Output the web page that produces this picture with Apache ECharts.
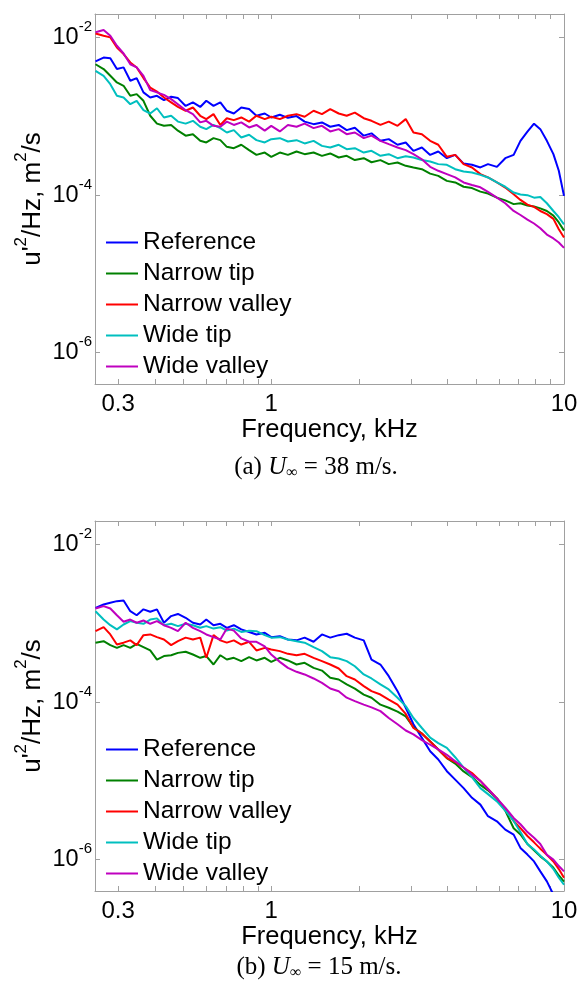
<!DOCTYPE html>
<html><head><meta charset="utf-8">
<script src="https://cdn.jsdelivr.net/npm/echarts@6/dist/echarts.min.js"></script>
<style>html,body{margin:0;padding:0;background:#fff}#c{width:581px;height:983px}</style>
</head><body><div id="c"></div>
<script>
// ---------- data ----------
const freq = [0.251,0.2675,0.282,0.297,0.313,0.33,0.347,0.366,0.386,0.407,0.43,0.455,0.48,0.51,0.54,0.572,0.60,0.635,0.67,0.705,0.745,0.79,0.84,0.89,0.95,1.0,1.07,1.14,1.22,1.30,1.395,1.49,1.59,1.70,1.81,1.93,2.07,2.2,2.36,2.52,2.7,2.88,3.06,3.27,3.49,3.72,3.98,4.25,4.54,4.85,5.18,5.5,5.9,6.3,6.73,7.1,7.5,7.9,8.3,8.74,9.2,9.6,10.0];

const seriesNames = ['Reference','Narrow tip','Narrow valley','Wide tip','Wide valley'];

// (a) U = 38 m/s
const refA = [5.0e-3,5.6e-3,5.5e-3,4.0e-3,4.2e-3,2.84e-3,3.07e-3,2.02e-3,1.74e-3,1.83e-3,1.61e-3,1.78e-3,1.71e-3,1.36e-3,1.51e-3,1.32e-3,1.58e-3,1.36e-3,1.51e-3,1.18e-3,1.09e-3,1.30e-3,1.24e-3,1.02e-3,1.09e-3,9.7e-4,1.05e-3,9.6e-4,1.01e-3,8.6e-4,7.98e-4,8.4e-4,7.4e-4,7.8e-4,6.7e-4,7.2e-4,5.7e-4,6.1e-4,4.9e-4,5.15e-4,4.37e-4,4.67e-4,3.66e-4,4.03e-4,3.25e-4,3.59e-4,2.95e-4,3.25e-4,2.52e-4,2.43e-4,2.25e-4,2.48e-4,2.29e-4,2.95e-4,3.25e-4,4.9e-4,6.4e-4,8.1e-4,6.9e-4,4.9e-4,3.32e-4,2.04e-4,9.8e-5];
const narrowTipA = [4.6e-3,4.0e-3,3.28e-3,2.7e-3,2.45e-3,1.83e-3,1.92e-3,1.58e-3,1.02e-3,8.1e-4,7.6e-4,7.8e-4,6.6e-4,5.7e-4,5.95e-4,4.9e-4,4.67e-4,5.3e-4,5.0e-4,4.11e-4,3.95e-4,4.37e-4,3.73e-4,3.25e-4,3.48e-4,3.07e-4,3.48e-4,3.25e-4,3.59e-4,3.32e-4,3.48e-4,3.16e-4,3.39e-4,3.01e-4,3.16e-4,2.79e-4,2.95e-4,2.62e-4,2.79e-4,2.48e-4,2.6e-4,2.36e-4,2.25e-4,2.14e-4,1.88e-4,1.76e-4,1.52e-4,1.45e-4,1.28e-4,1.23e-4,1.11e-4,1.05e-4,9.3e-5,8.6e-5,7.7e-5,7.9e-5,7.4e-5,7.2e-5,6.8e-5,6.3e-5,5.5e-5,4.5e-5,3.55e-5];
const narrowValleyA = [1.13e-2,1.06e-2,1.01e-2,7.5e-3,6.2e-3,4.85e-3,4.19e-3,3.07e-3,2.33e-3,2.07e-3,1.74e-3,1.51e-3,1.32e-3,1.18e-3,1.30e-3,1.02e-3,9.25e-4,1.07e-3,7.8e-4,9.5e-4,8.97e-4,9.7e-4,8.6e-4,1.02e-3,9.25e-4,9.9e-4,9.25e-4,1.02e-3,1.07e-3,9.9e-4,1.18e-3,1.07e-3,1.24e-3,1.09e-3,1.02e-3,1.12e-3,9.5e-4,8.8e-4,7.8e-4,8.6e-4,7.6e-4,9.25e-4,6.25e-4,5.95e-4,4.9e-4,4.37e-4,3.07e-4,3.25e-4,2.48e-4,2.25e-4,1.85e-4,1.68e-4,1.45e-4,1.25e-4,1.03e-4,8.7e-5,7.6e-5,7.1e-5,6.3e-5,5.75e-5,5.0e-5,3.7e-5,2.9e-5];
const wideTipA = [3.8e-3,3.28e-3,2.57e-3,1.83e-3,1.74e-3,1.43e-3,1.58e-3,1.2e-3,1.09e-3,1.27e-3,9.7e-4,1.02e-3,8.6e-4,8.1e-4,8.8e-4,7.4e-4,6.9e-4,7.8e-4,7.1e-4,6.25e-4,6.7e-4,5.4e-4,5.85e-4,5.0e-4,4.67e-4,5.15e-4,5.3e-4,4.8e-4,5.0e-4,4.54e-4,4.9e-4,4.23e-4,4.03e-4,4.37e-4,3.84e-4,3.95e-4,3.48e-4,3.66e-4,3.16e-4,3.32e-4,2.95e-4,3.13e-4,3.01e-4,2.79e-4,2.68e-4,2.48e-4,2.43e-4,2.14e-4,2.0e-4,1.94e-4,1.81e-4,1.68e-4,1.45e-4,1.28e-4,1.08e-4,1.02e-4,1.0e-4,9.3e-5,9.5e-5,7.9e-5,6.3e-5,5.25e-5,4.27e-5];
const wideValleyA = [1.17e-2,1.25e-2,1.06e-2,7.9e-3,6.3e-3,4.6e-3,4.19e-3,3.28e-3,2.16e-3,2.02e-3,1.88e-3,1.66e-3,1.43e-3,1.2e-3,1.07e-3,8.4e-4,8.8e-4,7.6e-4,7.4e-4,8.6e-4,7.8e-4,8.4e-4,7.25e-4,7.8e-4,6.6e-4,7.6e-4,6.45e-4,7.8e-4,7.4e-4,8.1e-4,7.1e-4,7.6e-4,6.45e-4,6.9e-4,5.95e-4,6.25e-4,5.3e-4,5.7e-4,4.9e-4,4.45e-4,4.03e-4,3.73e-4,3.32e-4,2.86e-4,2.29e-4,2.04e-4,1.85e-4,1.68e-4,1.45e-4,1.35e-4,1.26e-4,1.1e-4,9.3e-5,7.9e-5,6.3e-5,5.6e-5,4.9e-5,4.37e-5,3.8e-5,3.16e-5,2.82e-5,2.51e-5,2.14e-5];

// (b) U = 15 m/s
const refB = [1.58e-3,1.74e-3,1.83e-3,1.92e-3,1.96e-3,1.43e-3,1.27e-3,1.51e-3,1.41e-3,1.51e-3,1.02e-3,1.24e-3,1.32e-3,1.18e-3,1.02e-3,9.7e-4,1.12e-3,9.5e-4,9.9e-4,8.8e-4,9.5e-4,8.4e-4,7.8e-4,7.25e-4,7.6e-4,6.7e-4,6.9e-4,6.25e-4,6.1e-4,6.6e-4,5.85e-4,7.25e-4,6.6e-4,7.1e-4,7.4e-4,6.6e-4,6.1e-4,3.48e-4,3.01e-4,2.14e-4,1.38e-4,8.5e-5,5.25e-5,3.52e-5,2.38e-5,1.87e-5,1.33e-5,1.04e-5,8.1e-6,6.1e-6,5.0e-6,3.56e-6,3.07e-6,2.41e-6,2.08e-6,1.41e-6,1.16e-6,9.5e-7,7.1e-7,5.3e-7,3.6e-7,2.8e-7,2.2e-7];
const narrowTipB = [5.7e-4,5.95e-4,5.3e-4,4.9e-4,5.3e-4,4.9e-4,5.5e-4,5.0e-4,4.54e-4,3.48e-4,3.85e-4,3.95e-4,4.23e-4,4.37e-4,4.03e-4,3.66e-4,3.85e-4,3.01e-4,3.95e-4,3.48e-4,3.66e-4,3.32e-4,3.73e-4,3.39e-4,3.66e-4,3.25e-4,3.66e-4,3.39e-4,3.01e-4,3.16e-4,2.73e-4,2.52e-4,2.04e-4,1.94e-4,1.68e-4,1.49e-4,1.25e-4,1.14e-4,9.3e-5,8.5e-5,7.6e-5,6.6e-5,4.8e-5,4.0e-5,3.16e-5,2.51e-5,1.95e-5,1.66e-5,1.32e-5,1.12e-5,8.9e-6,7.6e-6,6.0e-6,4.2e-6,2.51e-6,2.09e-6,1.58e-6,1.32e-6,1.1e-6,9.5e-7,7.9e-7,6.3e-7,5.25e-7];
const narrowValleyB = [7.98e-4,8.97e-4,7.25e-4,5.4e-4,5.7e-4,6.1e-4,5.3e-4,7.1e-4,7.25e-4,6.7e-4,6.25e-4,5.3e-4,5.95e-4,6.6e-4,6.25e-4,6.6e-4,3.66e-4,7.1e-4,6.1e-4,5.7e-4,6.1e-4,5.4e-4,5.85e-4,4.54e-4,4.9e-4,4.67e-4,4.45e-4,4.11e-4,3.95e-4,4.11e-4,3.66e-4,3.32e-4,3.01e-4,2.68e-4,2.14e-4,1.94e-4,1.6e-4,1.38e-4,1.25e-4,1.08e-4,9.3e-5,7.1e-5,4.7e-5,4.0e-5,3.16e-5,2.51e-5,1.95e-5,1.74e-5,1.48e-5,1.26e-5,1.0e-5,7.9e-6,6.0e-6,4.37e-6,3.1e-6,2.51e-6,2.0e-6,1.66e-6,1.38e-6,1.15e-6,9.5e-7,7.6e-7,5.9e-7];
const wideTipB = [1.43e-3,1.12e-3,9.5e-4,8.4e-4,9.7e-4,1.07e-3,1.02e-3,9.9e-4,1.12e-3,1.16e-3,9.5e-4,9.9e-4,9.25e-4,9.9e-4,9.5e-4,8.8e-4,9.25e-4,8.6e-4,8.97e-4,8.1e-4,8.6e-4,7.8e-4,8.1e-4,7.98e-4,7.1e-4,6.6e-4,6.7e-4,6.25e-4,5.95e-4,5.7e-4,5.0e-4,4.45e-4,3.73e-4,3.59e-4,3.32e-4,2.86e-4,2.25e-4,2.0e-4,1.68e-4,1.45e-4,1.14e-4,8.9e-5,6.3e-5,4.7e-5,3.55e-5,3.02e-5,2.63e-5,2.0e-5,1.48e-5,1.12e-5,8.1e-6,6.8e-6,5.5e-6,4.2e-6,3.1e-6,2.24e-6,1.58e-6,1.35e-6,1.12e-6,9.5e-7,7.6e-7,5.9e-7,4.8e-7];
const wideValleyB = [1.55e-3,1.66e-3,1.55e-3,1.27e-3,1.05e-3,1.12e-3,1.02e-3,1.09e-3,9.9e-4,1.07e-3,9.5e-4,8.8e-4,7.98e-4,1.02e-3,8.8e-4,7.98e-4,7.25e-4,6.7e-4,6.25e-4,8.6e-4,8.1e-4,6.45e-4,5.85e-4,5.85e-4,5.1e-4,4.03e-4,3.25e-4,2.73e-4,2.43e-4,2.25e-4,2.0e-4,1.76e-4,1.49e-4,1.38e-4,1.14e-4,1.03e-4,9.3e-5,8.6e-5,7.7e-5,6.3e-5,5.25e-5,4.37e-5,3.9e-5,3.3e-5,2.88e-5,2.51e-5,2.14e-5,1.78e-5,1.48e-5,1.2e-5,1.0e-5,7.9e-6,6.0e-6,4.57e-6,3.39e-6,2.82e-6,2.24e-6,1.9e-6,1.58e-6,1.15e-6,1.0e-6,8.3e-7,7.1e-7];

// axis ticks / labels
const xRange = [0.25, 10];
const yRange = [4e-7, 2e-2];
const xTickValues = [0.3,0.4,0.5,0.6,0.7,0.8,0.9,1,2,3,4,5,6,7,8,9,10];
const xLabelValues = [0.3, 1, 10];
const yTickValues = [1e-6, 1e-4, 1e-2];
const captionLabels = ['(a)', '(b)'];
const captionSpeeds = ['38', '15'];

// ---------- chart ----------
const FONT = "'Liberation Sans', Arial, Helvetica, sans-serif";
const SERIF = "'Liberation Serif', 'Times New Roman', serif";
const GRAY = '#a0a0a0';
const colors = ['#0000ff', '#008000', '#ff0000', '#00bfbf', '#bf00bf'];
const panels = [
  { top: 14, capY: 467, capX: 316, data: [refA, narrowTipA, narrowValleyA, wideTipA, wideValleyA] },
  { top: 521, capY: 967, capX: 319, data: [refB, narrowTipB, narrowValleyB, wideTipB, wideValleyB] }
];
const GRID_H = 370, GRID_L = 95, GRID_W = 469;

const fmtX = f => (f < 0.999 ? f.toFixed(1) : String(Math.round(f)));

const grid = [], xAxis = [], yAxis = [], series = [], legend = [], graphic = [];
panels.forEach((p, gi) => {
  grid.push({ left: GRID_L, top: p.top, width: GRID_W, height: GRID_H, show: false });
  // log axes carrying the data
  xAxis.push({ type: 'log', logBase: 10, gridIndex: gi, min: xRange[0], max: xRange[1], show: false, position: 'bottom' });
  yAxis.push({ type: 'log', logBase: 10, gridIndex: gi, min: yRange[0], max: yRange[1], show: false, position: 'left' });
  // frame / tick axes in decade units
  ['bottom', 'top'].forEach(pos => {
    const lab = pos === 'bottom';
    xAxis.push({
      type: 'value', gridIndex: gi, position: pos,
      min: Math.log10(xRange[0]), max: Math.log10(xRange[1]),
      axisLine: { show: true, onZero: false, lineStyle: { color: GRAY, width: 1 } },
      axisTick: { show: true, inside: true, length: 5, customValues: xTickValues.map(Math.log10), lineStyle: { color: GRAY, width: 1 } },
      axisLabel: { show: lab, customValues: xLabelValues.map(Math.log10), formatter: v => fmtX(Math.pow(10, v)),
        margin: 8, color: '#000', fontSize: 24, fontFamily: FONT },
      splitLine: { show: false },
      name: lab ? 'Frequency, kHz' : '', nameLocation: 'middle', nameGap: 31,
      nameTextStyle: { color: '#000', fontSize: 25.5, fontFamily: FONT }
    });
  });
  ['left', 'right'].forEach(pos => {
    const lab = pos === 'left';
    yAxis.push({
      type: 'value', gridIndex: gi, position: pos,
      min: Math.log10(yRange[0]), max: Math.log10(yRange[1]),
      axisLine: { show: true, onZero: false, lineStyle: { color: GRAY, width: 1 } },
      axisTick: { show: true, inside: true, length: 5, customValues: yTickValues.map(Math.log10), lineStyle: { color: GRAY, width: 1 } },
      axisLabel: { show: lab, customValues: yTickValues.map(Math.log10),
        formatter: v => '{b|10}{s|' + Math.round(v) + '}', margin: 3,
        rich: {
          b: { fontSize: 23.5, fontFamily: FONT, color: '#000', lineHeight: 36 },
          s: { fontSize: 15, fontFamily: FONT, color: '#000', lineHeight: 16, verticalAlign: 'top' }
        } },
      splitLine: { show: false }
    });
  });
  p.data.forEach((vals, si) => {
    series.push({
      type: 'line', name: seriesNames[si], xAxisIndex: gi * 3, yAxisIndex: gi * 3,
      data: freq.map((f, i) => [f, vals[i]]),
      showSymbol: false, symbol: 'none', clip: true, animation: false,
      color: colors[si], itemStyle: { color: colors[si] },
      lineStyle: { color: colors[si], width: 2 }
    });
  });
  legend.push({
    orient: 'vertical', left: 106, top: p.top + 216, padding: 0, itemGap: 6,
    itemWidth: 32, itemHeight: 2, icon: 'rect', selectedMode: false,
    data: seriesNames,
    textStyle: { fontSize: 24.5, fontFamily: FONT, color: '#000', lineHeight: 24 }
  });
  // y-axis title
  graphic.push({
    type: 'text', x: 33, y: p.top + GRID_H / 2, rotation: Math.PI / 2,
    style: {
      text: "{b|u'}{s|2}{b|/Hz, m}{s|2}{b|/s}", align: 'center', verticalAlign: 'middle',
      rich: {
        b: { fontSize: 26, fontFamily: FONT, fill: '#000', lineHeight: 40 },
        s: { fontSize: 17, fontFamily: FONT, fill: '#000', lineHeight: 18, verticalAlign: 'top' }
      }
    }
  });
  // caption
  graphic.push({
    type: 'text', x: p.capX, y: p.capY,
    style: {
      text: '{b|' + captionLabels[gi] + ' }{i|U}{sub|∞}{b| = ' + captionSpeeds[gi] + ' m/s.}',
      align: 'center', verticalAlign: 'middle',
      rich: {
        b: { fontSize: 25, fontFamily: SERIF, fill: '#000', lineHeight: 28 },
        i: { fontSize: 25, fontFamily: SERIF, fontStyle: 'italic', fill: '#000', lineHeight: 28 },
        sub: { fontSize: 16, fontFamily: SERIF, fill: '#000', lineHeight: 17, verticalAlign: 'bottom' }
      }
    }
  });
});

const chart = echarts.init(document.getElementById('c'), null, { renderer: 'canvas' });
chart.setOption({ animation: false, backgroundColor: '#fff', grid, xAxis, yAxis, series, legend, graphic });
</script>
</body></html>
